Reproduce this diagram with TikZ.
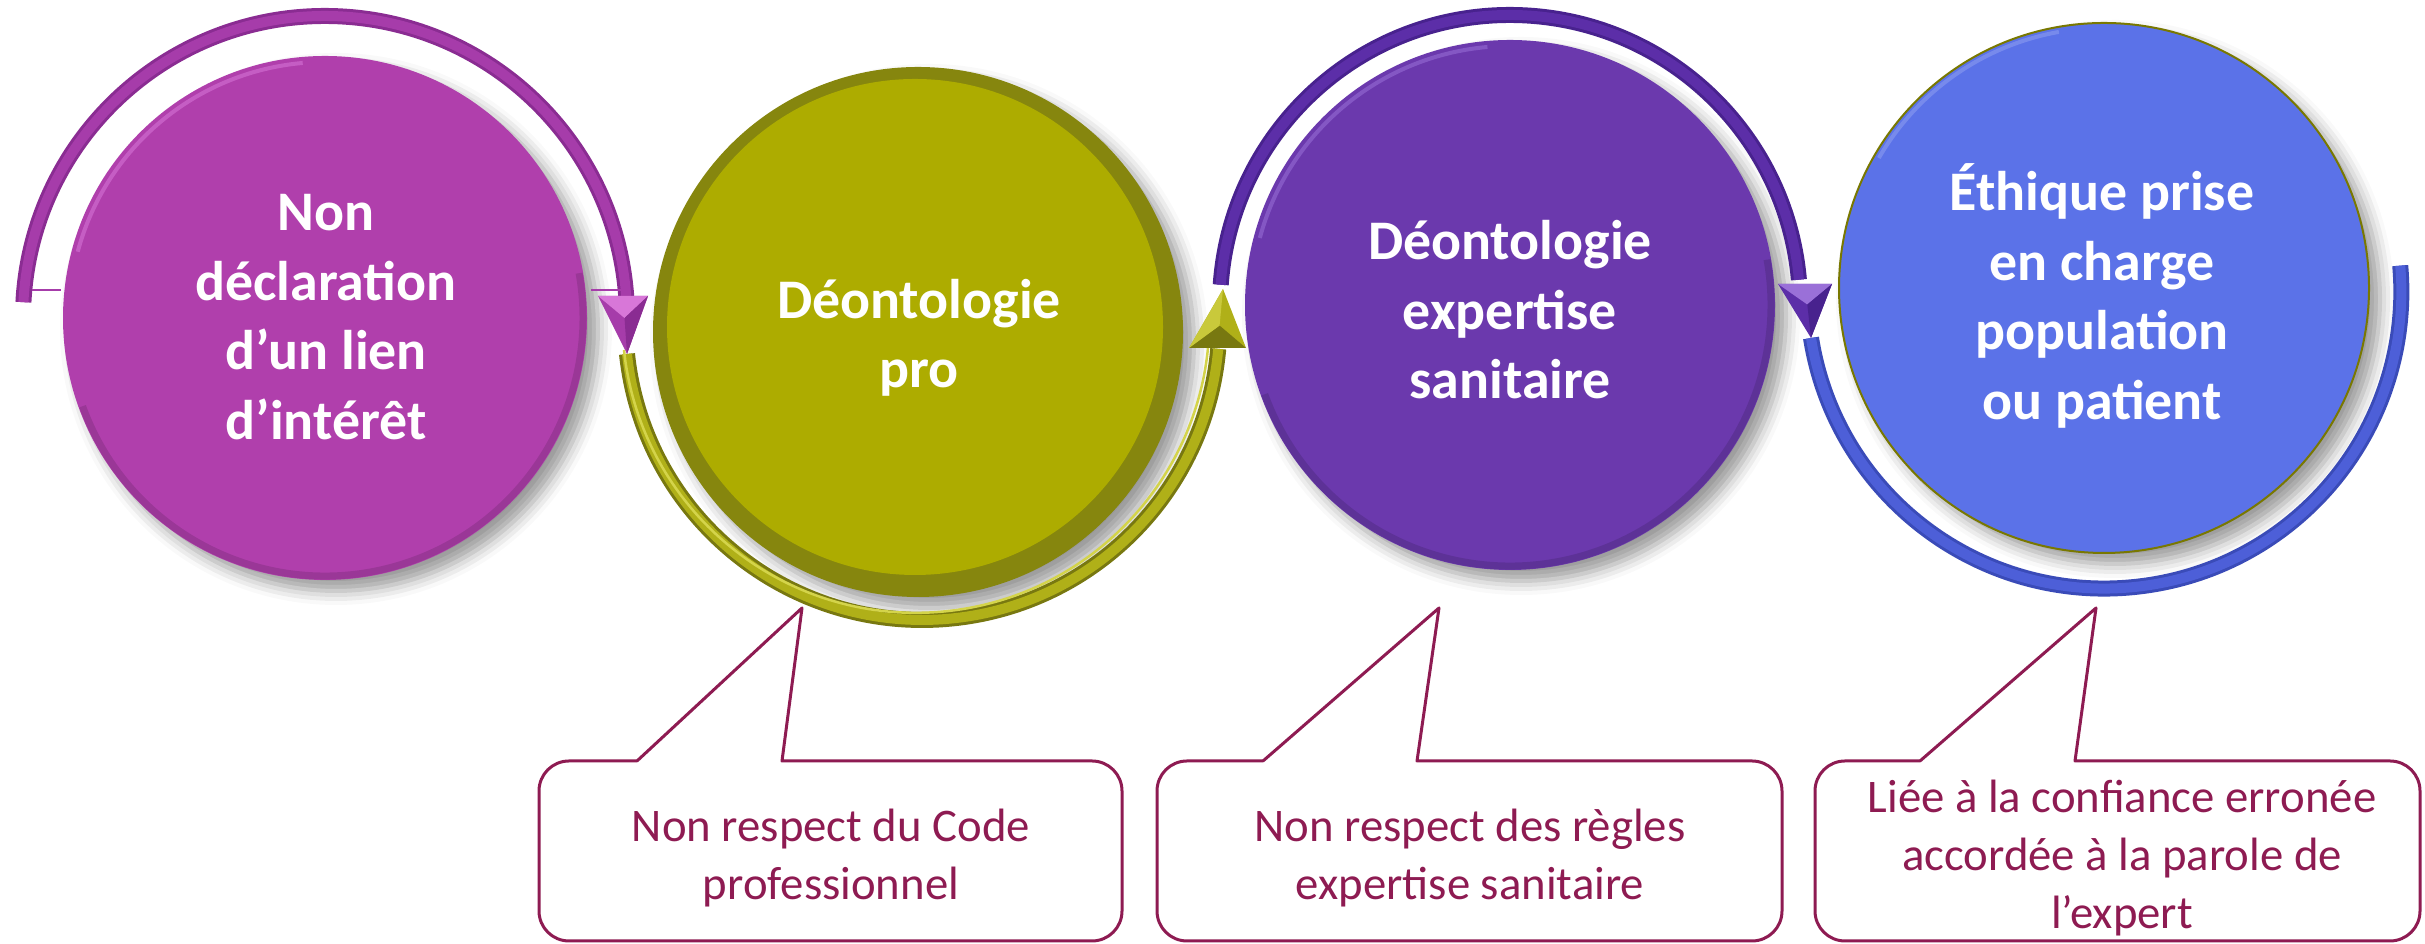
\documentclass[tikz,border=0pt]{standalone}
\usepackage{fontspec}
\setmainfont{Carlito}
\usetikzlibrary{calc,shadows.blur}
\definecolor{cMag}{HTML}{B03FAC}
\definecolor{cMagArc}{HTML}{A63CAA}
\definecolor{cMagDk}{HTML}{8A2C92}
\definecolor{cMagLt}{HTML}{D877D8}
\definecolor{cOl}{HTML}{ADAC00}
\definecolor{cOlRim}{HTML}{86860E}
\definecolor{cOlArc}{HTML}{B0B018}
\definecolor{cOlDk}{HTML}{787810}
\definecolor{cOlLt}{HTML}{D4D44A}
\definecolor{cPur}{HTML}{6B39AD}
\definecolor{cPurArc}{HTML}{5C2EA8}
\definecolor{cPurDk}{HTML}{48228E}
\definecolor{cPurLt}{HTML}{9A70D8}
\definecolor{cBlu}{HTML}{5B72E8}
\definecolor{cBluArc}{HTML}{4D5FD8}
\definecolor{cBluDk}{HTML}{3A4BB8}
\definecolor{cBluLt}{HTML}{8A9AF0}
\definecolor{cCall}{HTML}{8E1B52}
\begin{document}
\begin{tikzpicture}[x=0.1mm,y=0.1mm,
  disc/.style={circle, minimum size=#1, inner sep=0pt,
    blur shadow={shadow xshift=1.1mm, shadow yshift=-1.1mm, shadow blur radius=1.4mm, shadow opacity=40}},
  disctext/.style={text=white, font=\bfseries\fontsize{15.9}{19.8}\selectfont, align=center, inner sep=0pt},
  calltext/.style={text=cCall, font=\fontsize{13.3}{16.4}\selectfont, align=center, inner sep=0pt},
  callline/.style={draw=cCall, line width=0.3mm, line cap=round, line join=round},
  ringdark/.style={line width=1.6mm},
  ringlight/.style={line width=1.0mm},
]
\useasboundingbox (0,0) rectangle (2425,944);

% ---------- discs ----------
\node[disc=52.4mm, fill=cMag] (c1) at (325,626) {};
\node[disc=53mm, fill=cOlRim] (c2) at (918,612) {};
\fill[cOl] ([shift={(-3,5)}]c2.center) circle[radius=24.8mm];
\node[disc=53mm, fill=cPur] (c3) at (1510,639) {};
\node[disc=53mm, fill=cBlu, draw=cOl!70!black, line width=0.2mm] (c4) at (2104,656) {};

% bevel highlights / edges
\draw[cMagLt, opacity=0.55, line width=0.4mm] ([shift={(95:25.6mm)}]c1.center) arc[start angle=95, end angle=165, radius=25.6mm];
\draw[black, opacity=0.12, line width=0.7mm] ([shift={(-160:25.8mm)}]c1.center) arc[start angle=-160, end angle=10, radius=25.8mm];
\draw[cPurLt, opacity=0.55, line width=0.4mm] ([shift={(95:25.9mm)}]c3.center) arc[start angle=95, end angle=165, radius=25.9mm];
\draw[black, opacity=0.12, line width=0.7mm] ([shift={(-160:26.1mm)}]c3.center) arc[start angle=-160, end angle=10, radius=26.1mm];
\draw[cBluLt, opacity=0.6, line width=0.4mm] ([shift={(100:26.0mm)}]c4.center) arc[start angle=100, end angle=150, radius=26.0mm];

% ---------- texts in discs ----------
\node[disctext] (t1) at (326,627) {Non\\déclaration\\d’un lien\\d’intérêt};
\node[disctext] (t2) at (919,606) {Déontologie\\pro};
\node[disctext] (t3) at (1510,634) {Déontologie\\expertise\\sanitaire};
\node[disctext] (t4) at (2102,648) {Éthique prise\\en charge\\population\\ou patient};

% ---------- ring 1 (magenta) ----------
\draw[cMagDk, ringdark] ([shift={(177:30.2mm)}]c1.center) coordinate (a1s)
  arc[start angle=177, end angle=4, radius=30.2mm] coordinate (a1e);
\draw[cMagArc, ringlight] ([shift={(177:30.2mm)}]c1.center)
  arc[start angle=177, end angle=4, radius=30.2mm];
\draw[cMagArc, line width=0.2mm] (32,654) -- (61,654);
\draw[cMagArc, line width=0.2mm] (591,654) -- (621,654);
% arrowhead 1 (down)
\coordinate (h1l) at (598,648);
\coordinate (h1r) at (648,648);
\coordinate (h1t) at (627,590);
\coordinate (h1c) at ($(h1l)!0.5!(h1r)!0.38!(h1t)$);
\fill[cMagArc] (h1l) -- (h1r) -- (h1t) -- cycle;
\fill[cMagLt] (h1l) -- (h1r) -- (h1c) -- cycle;
\fill[cMagDk] (h1r) -- (h1t) -- (h1c) -- cycle;

% ---------- ring 2 (olive) ----------
\draw[cOlDk, ringdark] (h1t)
  arc[start angle=186, end angle=355, radius=29.7mm] coordinate (a2e);
\draw[cOlArc, ringlight] (h1t)
  arc[start angle=186, end angle=355, radius=29.7mm];
\draw[cOlLt, line width=0.25mm] ([shift={(-3,4)}]h1t)
  arc[start angle=186, end angle=355, radius=29.35mm];
% arrowhead 2 (up)
\coordinate (h2l) at (1189,596);
\coordinate (h2r) at (1246,596);
\coordinate (h2t) at (1223,655);
\coordinate (h2c) at ($(h2l)!0.5!(h2r)!0.38!(h2t)$);
\fill[cOlArc] (h2l) -- (h2r) -- (h2t) -- cycle;
\fill[cOlDk] (h2l) -- (h2r) -- (h2c) -- cycle;
\fill[cOlLt!70!cOlArc] (h2l) -- (h2t) -- (h2c) -- cycle;

% ---------- ring 3 (purple) ----------
\draw[cPurDk, ringdark] ([shift={(176:29.0mm)}]c3.center) coordinate (a3s)
  arc[start angle=176, end angle=5, radius=29.0mm] coordinate (a3e);
\draw[cPurArc, ringlight] ([shift={(176:29.0mm)}]c3.center)
  arc[start angle=176, end angle=5, radius=29.0mm];
% arrowhead 3 (down)
\coordinate (h3l) at (1778,660);
\coordinate (h3r) at (1832,660);
\coordinate (h3t) at (1811,606);
\coordinate (h3c) at ($(h3l)!0.5!(h3r)!0.38!(h3t)$);
\fill[cPurArc] (h3l) -- (h3r) -- (h3t) -- cycle;
\fill[cPurLt] (h3l) -- (h3r) -- (h3c) -- cycle;
\fill[cPurDk] (h3r) -- (h3t) -- (h3c) -- cycle;

% ---------- ring 4 (blue) ----------
\draw[cBluDk, ringdark] (h3t)
  arc[start angle=189, end angle=365, radius=29.7mm] coordinate (a4e);
\draw[cBluArc, ringlight] (h3t)
  arc[start angle=189, end angle=365, radius=29.7mm];

% ---------- callouts ----------
\node[calltext] (n1) at (831,86) {Non respect du Code\\professionnel};
\node[calltext] (n2) at (1470,86) {Non respect des règles\\expertise sanitaire};
\node[calltext] (n3) at (2122,86) {Liée à la confiance erronée\\accordée à la parole de\\l’expert};

\coordinate (p1) at (802,336);
\coordinate (p2) at (1439,336);
\coordinate (p3) at (2096,336);

\draw[callline] (637,183) -- (p1) -- (782,183)
  [rounded corners=3mm] -- (1122,183) -- (1122,3) -- (539,3) -- (539,183) -- (637,183);
\draw[callline] (1263,183) -- (p2) -- (1417,183)
  [rounded corners=3mm] -- (1782,183) -- (1782,3) -- (1157,3) -- (1157,183) -- (1263,183);
\draw[callline] (1920,183) -- (p3) -- (2075,183)
  [rounded corners=3mm] -- (2420,183) -- (2420,3) -- (1815,3) -- (1815,183) -- (1920,183);
\end{tikzpicture}
\end{document}
